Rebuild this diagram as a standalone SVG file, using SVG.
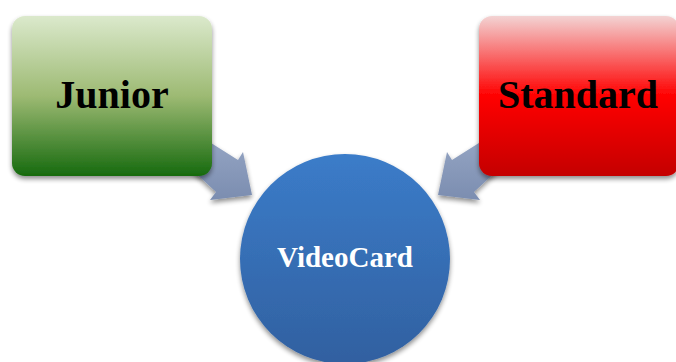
<svg xmlns="http://www.w3.org/2000/svg" width="676" height="362" viewBox="0 0 676 362">
<defs>
<linearGradient id="gJ" x1="0" y1="0" x2="0" y2="1">
<stop offset="0" stop-color="#dbe9cc"/>
<stop offset="0.5" stop-color="#9dba73"/>
<stop offset="1" stop-color="#166a0e"/>
</linearGradient>
<linearGradient id="gS" x1="0" y1="0" x2="0" y2="1">
<stop offset="0" stop-color="#f3d3d3"/>
<stop offset="0.5" stop-color="#ff0000"/>
<stop offset="1" stop-color="#c40000"/>
</linearGradient>
<linearGradient id="gC" x1="0" y1="0" x2="0" y2="1">
<stop offset="0" stop-color="#3b7cc9"/>
<stop offset="1" stop-color="#3160a0"/>
</linearGradient>
<linearGradient id="gA" x1="0" y1="0" x2="0" y2="1">
<stop offset="0" stop-color="#96a6c4"/>
<stop offset="1" stop-color="#7b8db0"/>
</linearGradient>
<filter id="sh" x="-20%" y="-20%" width="140%" height="140%">
<feGaussianBlur in="SourceAlpha" stdDeviation="2.5"/>
<feOffset dx="0" dy="3" result="b"/>
<feComponentTransfer><feFuncA type="linear" slope="0.45"/></feComponentTransfer>
<feMerge><feMergeNode/><feMergeNode in="SourceGraphic"/></feMerge>
</filter>
<style>
.lbl{font-family:"Liberation Serif","Times New Roman",serif;font-weight:bold;text-anchor:middle}
.arrow{fill:url(#gA)}
</style>
</defs>
<g id="connectors" filter="url(#sh)">
<polygon class="arrow" points="200,136 238,160 243,152 252,195 210,200 216,192 190,168"/>
<polygon class="arrow" points="490,136 452,160 447,152 438,195 480,200 474,192 500,168"/>
</g>
<g id="junior">
<rect x="12" y="16" width="200" height="160" rx="13" fill="url(#gJ)" filter="url(#sh)"/>
<text class="lbl" x="112" y="108" font-size="40" fill="#000">Junior</text>
</g>
<g id="standard">
<rect x="479" y="16" width="200" height="160" rx="13" fill="url(#gS)" filter="url(#sh)"/>
<text class="lbl" x="578" y="108" font-size="40" fill="#000">Standard</text>
</g>
<g id="videocard">
<circle cx="345" cy="259" r="105" fill="url(#gC)" filter="url(#sh)"/>
<text class="lbl" x="345" y="267" font-size="29" fill="#fff">VideoCard</text>
</g>
</svg>
